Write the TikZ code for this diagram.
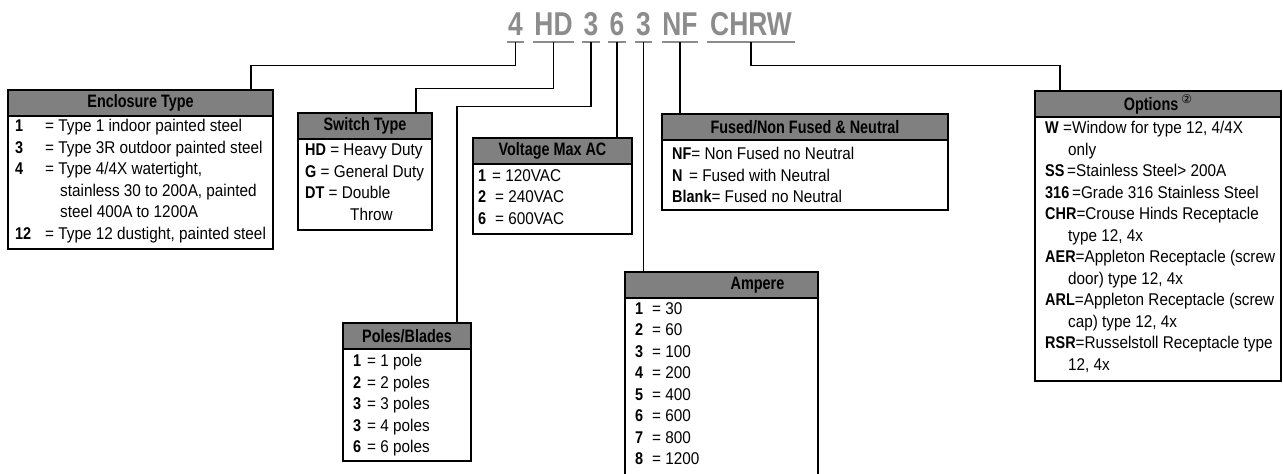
\documentclass[tikz,border=0pt]{standalone}
\usepackage{fontspec}
\setmainfont{Liberation Sans}[FakeStretch=0.9]
\newfontfamily\condfam{Liberation Sans}[FakeStretch=0.8]
\newfontfamily\keyfam{Liberation Sans}[FakeStretch=0.85]
\newfontfamily\circfam{DejaVu Sans}
\definecolor{hdrgray}{RGB}{128,128,128}
\definecolor{codegray}{RGB}{140,140,140}
\newcommand{\kv}[2][30pt]{\makebox[#1][l]{\keyfam\bfseries #2}}
\newcommand{\kb}[1]{{\keyfam\bfseries #1}}

\begin{document}
\begin{tikzpicture}[x=1pt,y=-1pt,
   code/.style={inner sep=0pt, minimum height=36pt, text=codegray,
      font=\condfam\bfseries\fontsize{33}{33}\selectfont},
   uline/.style={draw=codegray, line width=2pt},
   wire/.style={draw=black, line width=1.4pt},
   hdr/.style={draw=black, line width=1.2pt, fill=hdrgray, inner sep=0pt, outer sep=0pt,
      anchor=north west, minimum height=26pt,
      font=\condfam\bfseries\fontsize{18}{20}\selectfont},
   body/.style={draw=black, line width=1.2pt, inner sep=0pt, outer sep=0pt, anchor=north west},
   list/.style={inner sep=0pt, anchor=north west, align=left,
      font=\fontsize{17}{21.5}\selectfont,
      execute at begin node=\strut, execute at end node=\strut}]
   \useasboundingbox (0,0) rectangle (1283,474);

   %% catalogue number, one node per field
   \foreach \n/\x/\w/\t in
   { cEnc/515.5/17/4,
     cSw/553.5/41/HD,
     cPol/591/18/3,
     cVol/617/18/6,
     cAmp/643.5/17/3,
     cFus/680/36/NF,
     cOpt/751/88/CHRW
   }
   {
       \node[code, minimum width=\w pt] (\n) at (\x,24) {\t};
       \draw[uline] (\n.south west) -- (\n.south east);
   };

   %% Enclosure Type
   \node[hdr, minimum width=265pt] (encH) at (8,90) {Enclosure Type};
   \node[body, minimum width=265pt, minimum height=133pt] (encB) at (encH.south west) {};
   \node[list] (encL) at ([xshift=7pt,yshift=-3pt]encB.north west)
   {\kv{1}= Type 1 indoor painted steel\\
    \kv{3}= Type 3R outdoor painted steel\\
    \kv{4}= Type 4/4X watertight,\\
    \hspace*{45pt}stainless 30 to 200A, painted\\
    \hspace*{45pt}steel 400A to 1200A\\
    \kv{12}= Type 12 dustight, painted steel};

   %% Switch Type
   \node[hdr, minimum width=134pt] (swH) at (298,113) {Switch Type};
   \node[body, minimum width=134pt, minimum height=91pt] (swB) at (swH.south west) {};
   \node[list] (swL) at ([xshift=7pt,yshift=-5pt]swB.north west)
   {\kb{HD} = Heavy Duty\\
    \kb{G} = General Duty\\
    \kb{DT} = Double\\
    \hspace*{45pt}Throw};

   %% Voltage Max AC
   \node[hdr, minimum width=159pt] (volH) at (473,138) {Voltage Max AC};
   \node[body, minimum width=159pt, minimum height=70pt] (volB) at (volH.south west) {};
   \node[list] (volL) at ([xshift=5pt,yshift=-5pt]volB.north west)
   {\kv[14pt]{1}= 120VAC\\
    \kv[17pt]{2}= 240VAC\\
    \kv[17pt]{6}= 600VAC};

   %% Poles/Blades
   \node[hdr, minimum width=128pt] (polH) at (343,323) {Poles/Blades};
   \node[body, minimum width=128pt, minimum height=112pt] (polB) at (polH.south west) {};
   \node[list] (polL) at ([xshift=10pt,yshift=-5pt]polB.north west)
   {\kv[14pt]{1}= 1 pole\\
    \kv[14pt]{2}= 2 poles\\
    \kv[14pt]{3}= 3 poles\\
    \kv[14pt]{3}= 4 poles\\
    \kv[14pt]{6}= 6 poles};

   %% Fused/Non Fused & Neutral
   \node[hdr, minimum width=286pt] (fusH) at (662,114) {Fused/Non Fused \& Neutral};
   \node[body, minimum width=286pt, minimum height=70pt] (fusB) at (fusH.south west) {};
   \node[list] (fusL) at ([xshift=10pt,yshift=-7pt]fusB.north west)
   {\kb{NF}= Non Fused no Neutral\\
    \kv[17pt]{N}= Fused with Neutral\\
    \kb{Blank}= Fused no Neutral};

   %% Ampere
   \node[hdr, minimum width=193pt] (ampH) at (625,272) {\hspace*{72pt}Ampere};
   \node[body, minimum width=193pt, minimum height=192pt] (ampB) at (ampH.south west) {};
   \node[list] (ampL) at ([xshift=10pt,yshift=-4pt]ampB.north west)
   {\kv[17pt]{1}= 30\\
    \kv[17pt]{2}= 60\\
    \kv[17pt]{3}= 100\\
    \kv[17pt]{4}= 200\\
    \kv[17pt]{5}= 400\\
    \kv[17pt]{6}= 600\\
    \kv[17pt]{7}= 800\\
    \kv[17pt]{8}= 1200};

   %% Options
   \node[hdr, minimum width=246pt] (optH) at (1035,91)
   {Options\,\raisebox{7pt}{\circfam\mdseries\fontsize{12}{12}\selectfont ②}};
   \node[body, minimum width=246pt, minimum height=264pt] (optB) at (optH.south west) {};
   \node[list] (optL) at ([xshift=10pt,yshift=-4pt]optB.north west)
   {\kv[18pt]{W}=Window for type 12, 4/4X\\
    \hspace*{23pt}only\\
    \kv[22pt]{SS}=Stainless Steel> 200A\\
    \kb{316}\,=Grade 316 Stainless Steel\\
    \kb{CHR}=Crouse Hinds Receptacle\\
    \hspace*{23pt}type 12, 4x\\
    \kb{AER}=Appleton Receptacle (screw\\
    \hspace*{23pt}door) type 12, 4x\\
    \kb{ARL}=Appleton Receptacle (screw\\
    \hspace*{23pt}cap) type 12, 4x\\
    \kb{RSR}=Russelstoll Receptacle type\\
    \hspace*{23pt}12, 4x};

   %% connectors from the fields down to the boxes
   \draw[wire] (cEnc.south) -- ++(0,23) -| ([xshift=243pt]encH.north west);
   \draw[wire] (cSw.south) -- ++(0,46) -| ([xshift=118pt]swH.north west);
   \draw[wire] (cPol.south) -- ++(0,64) -| ([xshift=114pt]polH.north west);
   \draw[wire] (cVol.south) -- (cVol.south |- volH.north);
   \draw[wire] (cAmp.south) -- (cAmp.south |- ampH.north);
   \draw[wire] (cFus.south) -- (cFus.south |- fusH.north);
   \draw[wire] (cOpt.south) -- ++(0,23) -| ([xshift=25pt]optH.north west);
\end{tikzpicture}
\end{document}
